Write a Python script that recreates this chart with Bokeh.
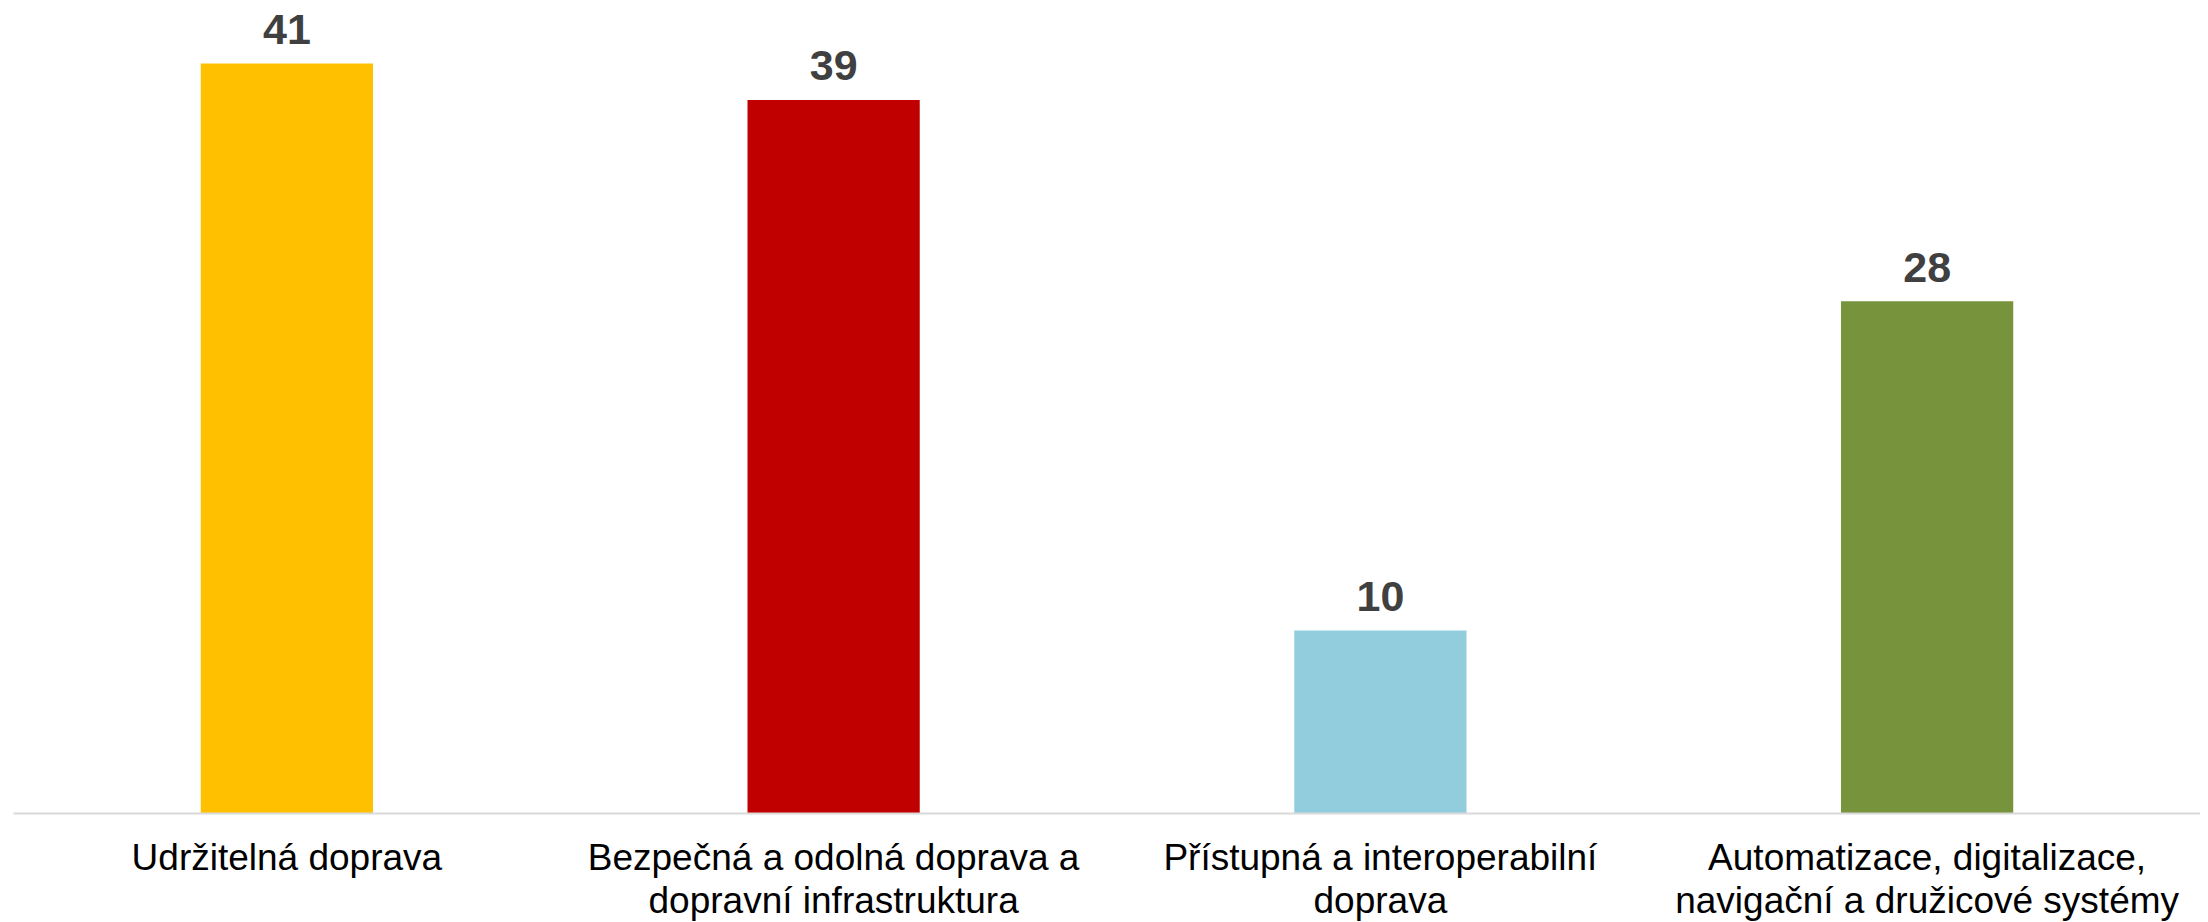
from bokeh.plotting import figure
from bokeh.models import ColumnDataSource, Range1d, FactorRange
from bokeh.core.properties import value
from bokeh.embed import file_html
from bokeh.resources import INLINE

categories = [
    "Udržitelná doprava",
    "Bezpečná a odolná doprava a\ndopravní infrastruktura",
    "Přístupná a interoperabilní\ndoprava",
    "Automatizace, digitalizace,\nnavigační a družicové systémy",
]
values = [41, 39, 10, 28]
colors = ["#FFC000", "#C00000", "#92CDDD", "#77933C"]
value_labels = [str(v) for v in values]

source = ColumnDataSource(dict(cat=categories, val=values, color=colors, lab=value_labels))

p = figure(
    x_range=FactorRange(*categories, range_padding=0),
    y_range=Range1d(0, 44),
    frame_width=2187, frame_height=805,
    output_backend="svg", toolbar_location=None,
    min_border_left=13, min_border_right=0, min_border_top=8, min_border_bottom=0,
)
p.x_range.range_padding = 0
p.vbar(x="cat", top="val", width=0.315, color="color", source=source, line_color=None)
p.text(x="cat", y="val", text="lab", source=source, y_offset=-34,
       text_align="center", text_baseline="alphabetic",
       text_font=value("Liberation Sans"), text_font_style="bold",
       text_font_size="43px", text_color="#404040")

p.yaxis.visible = False
p.xgrid.grid_line_color = None
p.ygrid.grid_line_color = None
p.outline_line_color = None
p.xaxis.axis_line_color = "#D9D9D9"
p.xaxis.axis_line_width = 2
p.xaxis.major_tick_line_color = None
p.xaxis.minor_tick_line_color = None
p.xaxis.major_tick_out = 0
p.xaxis.major_tick_in = 0
p.xaxis.major_label_standoff = 23
p.xaxis.major_label_text_font = "Liberation Sans"
p.xaxis.major_label_text_font_size = "37px"
p.xaxis.major_label_text_color = "#000000"
p.xaxis.major_label_text_line_height = 1.05
p.xaxis.major_label_orientation = "horizontal"

open("out.html", "w").write(file_html(p, INLINE))
